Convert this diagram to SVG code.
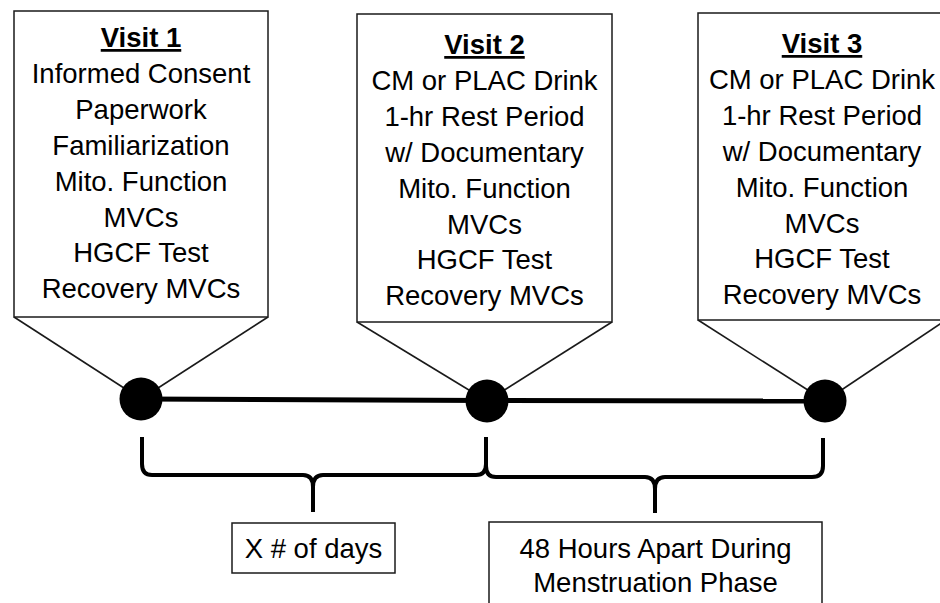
<svg xmlns="http://www.w3.org/2000/svg" width="940" height="603" viewBox="0 0 940 603">
<style>
  .box { fill: #ffffff; stroke: #1a1a1a; stroke-width: 1.5; }
  .ptr { stroke: #1a1a1a; stroke-width: 1.6; fill: none; }
  .dot { fill: #000000; }
  .tl { stroke: #000000; stroke-width: 5; fill: none; }
  .brace { stroke: #000000; stroke-width: 4; fill: none; stroke-linejoin: round; stroke-linecap: butt; }
  text { font-family: "Liberation Sans", Arial, sans-serif; font-size: 27.5px; fill: #000000; text-anchor: middle; }
  .title { font-weight: bold; text-decoration: underline; }
</style>
<rect x="0" y="0" width="940" height="603" fill="#ffffff"/>

<g id="connectors">
  <line class="tl" x1="141" y1="399" x2="487" y2="400.5"/>
  <line class="tl" x1="487" y1="400.5" x2="825" y2="401"/>
  <path class="brace" d="M142,437 V464 Q142,475 152,475 H303 Q313,475 313,487 V512 M313,487 Q313,475 323,475 H476 Q486,475 486,464 V437"/>
  <path class="brace" d="M486,437 V466 Q486,477 496,477 H645 Q655,477 655,489 V513 M655,489 Q655,477 665,477 H812 Q823,477 823,466 V438"/>
</g>

<g id="visit1">
  <line class="ptr" x1="14" y1="317" x2="141" y2="399"/>
  <line class="ptr" x1="268" y1="317" x2="141" y2="399"/>
  <rect class="box" x="14" y="11" width="254" height="306"/>
  <circle class="dot" cx="141" cy="399" r="21.5"/>
  <text class="title" x="141" y="47">Visit 1</text>
  <text x="141" y="82.9">Informed Consent</text>
  <text x="141" y="118.8">Paperwork</text>
  <text x="141" y="154.7">Familiarization</text>
  <text x="141" y="190.6">Mito. Function</text>
  <text x="141" y="226.5">MVCs</text>
  <text x="141" y="262.4">HGCF Test</text>
  <text x="141" y="298.3">Recovery MVCs</text>
</g>

<g id="visit2">
  <line class="ptr" x1="357" y1="322" x2="487" y2="401"/>
  <line class="ptr" x1="612" y1="322" x2="487" y2="401"/>
  <rect class="box" x="357" y="14" width="255" height="308"/>
  <circle class="dot" cx="487" cy="401" r="21.5"/>
  <text class="title" x="484.5" y="54">Visit 2</text>
  <text x="484.5" y="89.9">CM or PLAC Drink</text>
  <text x="484.5" y="125.8">1-hr Rest Period</text>
  <text x="484.5" y="161.7">w/ Documentary</text>
  <text x="484.5" y="197.6">Mito. Function</text>
  <text x="484.5" y="233.5">MVCs</text>
  <text x="484.5" y="269.4">HGCF Test</text>
  <text x="484.5" y="305.3">Recovery MVCs</text>
</g>

<g id="visit3">
  <line class="ptr" x1="698" y1="320" x2="825" y2="401"/>
  <line class="ptr" x1="946" y1="320" x2="825" y2="401"/>
  <rect class="box" x="698" y="13" width="248" height="307"/>
  <circle class="dot" cx="825" cy="401" r="21.5"/>
  <text class="title" x="822" y="53">Visit 3</text>
  <text x="822" y="88.9">CM or PLAC Drink</text>
  <text x="822" y="124.8">1-hr Rest Period</text>
  <text x="822" y="160.7">w/ Documentary</text>
  <text x="822" y="196.6">Mito. Function</text>
  <text x="822" y="232.5">MVCs</text>
  <text x="822" y="268.4">HGCF Test</text>
  <text x="822" y="304.3">Recovery MVCs</text>
</g>

<g id="gap1">
  <rect class="box" x="232" y="523" width="163" height="50"/>
  <text x="313.5" y="558">X # of days</text>
</g>

<g id="gap2">
  <rect class="box" x="489" y="522" width="333" height="95"/>
  <text x="655.5" y="558">48 Hours Apart During</text>
  <text x="655.5" y="592">Menstruation Phase</text>
</g>
</svg>
